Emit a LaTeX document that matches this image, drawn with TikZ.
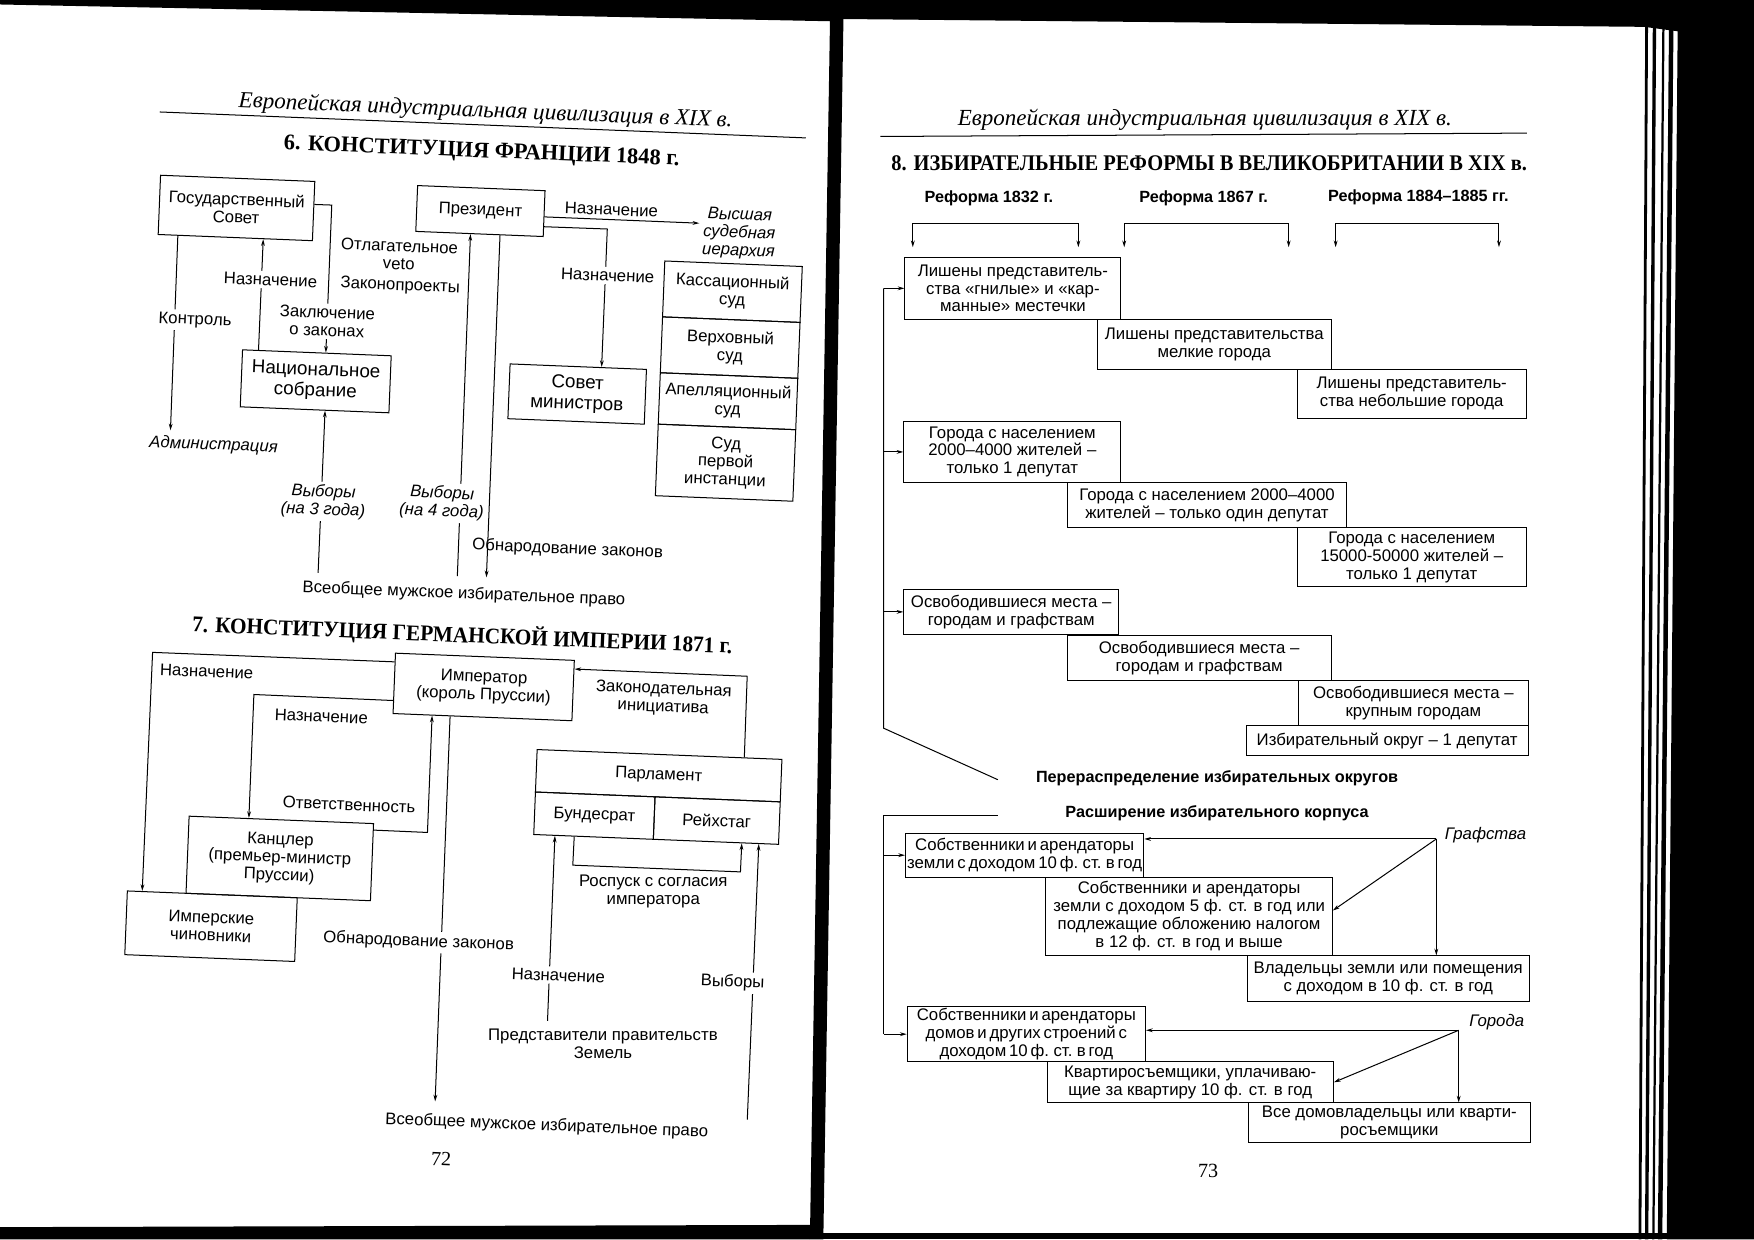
\documentclass[tikz,border=0pt]{standalone}
\usepackage{fontspec}
\setmainfont{Liberation Sans}
\newfontfamily\serifrm{Liberation Serif}
\newfontfamily\serifmid[FakeStretch=0.95]{Liberation Serif}
\newfontfamily\serifnarrow[FakeStretch=0.915]{Liberation Serif}
\usetikzlibrary{arrows.meta,calc}
\newcommand{\bodytxt}{\fontsize{15}{16}\selectfont}
\newcommand{\tighttxt}{\fontsize{15}{16}\selectfont\spaceskip=0.17em plus 0.05em\relax}
\newcommand{\bigtxt}{\fontsize{16.8}{18.5}\selectfont}
\newcommand{\hdrtxt}{\fontsize{20.6}{22}\selectfont\serifrm\itshape}
\newcommand{\ttltxt}{\fontsize{20}{22}\selectfont\serifrm\bfseries}
\newcommand{\ttlmid}{\fontsize{20}{22}\selectfont\serifmid\bfseries}
\newcommand{\ttlnarrow}{\fontsize{20}{22}\selectfont\serifnarrow\bfseries}
\newcommand{\subtxt}{\fontsize{14.5}{16}\selectfont\bfseries}
\newcommand{\pgtxt}{\fontsize{18}{20}\selectfont\serifrm}
\tikzset{
  bx/.style={draw, align=center, inner sep=1pt, font=\bodytxt},
  bigbx/.style={bx, font=\bigtxt},
  tightbx/.style={bx, font=\tighttxt},
  lab/.style={align=center, inner sep=1pt, font=\bodytxt},
  flab/.style={lab, fill=white, inner sep=2.5pt},
  itlab/.style={lab, font=\bodytxt\itshape},
  fitlab/.style={itlab, fill=white, inner sep=2.5pt},
  hdr/.style={inner sep=0pt, font=\hdrtxt},
  ttl/.style={inner sep=0pt, font=\ttltxt},
  ttlm/.style={inner sep=0pt, font=\ttlmid},
  ttlb/.style={inner sep=0pt, font=\ttlnarrow},
  subh/.style={inner sep=1pt, font=\subtxt},
  pgno/.style={inner sep=0pt, font=\pgtxt},
  scan/.style={fill=black, draw=none}
}
\begin{document}
\begin{tikzpicture}[x=1pt, y=-1pt, line width=0.9pt, >={Stealth[length=6pt,width=3.4pt]}]
\useasboundingbox (0,0) rectangle (1568,1108);
\fill[white] (0,0) rectangle (1568,1108);
\fill[scan] (0,0) -- (1568,0) -- (1568,30) -- (1500,28) -- (1470,24) -- (754,17) -- (742,19) -- (0,4) -- cycle;
\fill[scan] (742,17) -- (754,17) -- (736,1108) -- (724,1108) -- cycle;
\fill[scan] (1500,0) -- (1568,0) -- (1568,1108) -- (1490,1108) -- cycle;
\foreach \a/\b/\w in {1472/1466/2.5pt, 1479/1472/3pt, 1487/1478/2pt, 1494/1484/4pt}
  \draw[line width=\w] (\a,24) -- (\b,1108);
\fill[scan] (0,1097) -- (724,1095) -- (724,1108) -- (0,1108) -- cycle;
\fill[scan] (736,1102) -- (1568,1102) -- (1568,1108) -- (736,1108) -- cycle;

\begin{scope}[rotate around={-2.3:(480,600)}, transform shape]
\node[hdr, anchor=base] (hd1) at (414,107) {Европейская индустриальная цивилизация в XIX в.};
\draw (123,114) -- (701,114);
\node[ttl, anchor=base] (t6) at (412,143) {6. КОНСТИТУЦИЯ ФРАНЦИИ 1848 г.};

\node[bx, minimum width=138pt, minimum height=53pt] (gs) at (195,197) {Государственный\\Совет};
\node[bx, minimum width=114pt, minimum height=41pt] (pr) at (413,191) {Президент};
\node[bigbx, minimum width=133pt, minimum height=51pt] (ns) at (272,349) {Национальное\\собрание};
\node[bigbx, minimum width=122pt, minimum height=49pt] (sm) at (506,351) {Совет\\министров};
\node[bx, minimum width=123pt, minimum height=50pt] (ks) at (641,254) {Кассационный\\суд};
\node[bx, minimum width=123pt, minimum height=50pt] (vs) at (641,304) {Верховный\\суд};
\node[bx, minimum width=123pt, minimum height=46pt] (as) at (641,352) {Апелляционный\\суд};
\node[bx, minimum width=123pt, minimum height=64pt] (sp) at (641,407) {Суд\\первой\\инстанции};
\node[itlab] (adm) at (183,410) {Администрация};
\node[itlab] (vsi) at (645,202) {Высшая\\судебная\\иерархия};

\coordinate (k1) at (280,191);
\draw[->] ($(gs.north east)!0.39!(gs.south east)$) -- (k1) -- ($(ns.north west)!0.56!(ns.north east)$);
\draw[->] ($(ns.north west)!0.11!(ns.north east)$) -- ($(gs.south west)!0.68!(gs.south east)$);
\coordinate (k2) at (144,398);
\draw[->] ($(gs.south west)!0.13!(gs.south east)$) -- (k2);
\coordinate (k3) at (281,520);
\draw[->] (k3) -- ($(ns.south west)!0.57!(ns.south east)$);
\coordinate (k4) at (609,194);
\draw[->] ($(pr.north east)!0.57!(pr.south east)$) -- (k4);
\coordinate (k5) at (527,202.5);
\draw[->] ($(pr.north east)!0.78!(pr.south east)$) -- (k5) -- ($(sm.north west)!0.67!(sm.north east)$);
\coordinate (k6) at (405.5,518);
\draw[->] (k6) -- ($(pr.south west)!0.43!(pr.south east)$);
\coordinate (k7) at (431.5,518);
\draw[->] ($(pr.south west)!0.66!(pr.south east)$) -- (k7);

\node[lab] (nz1) at (530,185) {Назначение};
\node[flab] (nz2) at (529,244) {Назначение};
\node[lab] (veto) at (342,233) {Отлагательное\\veto};
\node[lab] (zp) at (344,261) {Законопроекты};
\node[flab] (nz3) at (228,260) {Назначение};
\node[flab] (ktr) at (162,299) {Контроль};
\node[flab] (zz) at (280,295) {Заключение\\о законах};
\node[fitlab] (vb3) at (283,456) {Выборы\\(на 3 года)};
\node[fitlab] (vb4) at (389,453) {Выборы\\(на 4 года)};
\node[lab] (obn1) at (503,490) {Обнародование законов};
\node[lab] (vsp1) at (412,534) {Всеобщее мужское избирательное право};

\node[ttlm, anchor=base] (t7) at (412,577) {7. КОНСТИТУЦИЯ ГЕРМАНСКОЙ ИМПЕРИИ 1871 г.};
\node[bx, minimum width=160pt, minimum height=54pt] (imp) at (433,616) {Император\\(король Пруссии)};
\node[bx, minimum width=219pt, minimum height=38pt] (parl) at (592.5,689) {Парламент};
\node[bx, minimum width=107pt, minimum height=38pt] (bund) at (536.5,727) {Бундесрат};
\node[bx, minimum width=112pt, minimum height=38pt] (reich) at (646,727) {Рейхстаг};
\node[bx, minimum width=165pt, minimum height=69pt] (kanz) at (257,776.5) {Канцлер\\(премьер-министр\\Пруссии)};
\node[bx, minimum width=152pt, minimum height=57pt] (beamt) at (198,839.5) {Имперские\\чиновники};

\coordinate (g1) at (136,597);
\draw[->] ($(imp.north west)!0.15!(imp.south west)$) -- (g1) -- ($(beamt.north west)!0.09!(beamt.north east)$);
\coordinate (g2) at (228,631);
\draw[->] ($(imp.north west)!0.78!(imp.south west)$) -- (g2) -- ($(kanz.north west)!0.325!(kanz.north east)$);
\coordinate (g3) at (388,748);
\draw[->] ($(kanz.north east)!0.09!(kanz.south east)$) -- (g3) -- ($(imp.south west)!0.22!(imp.south east)$);
\coordinate (g4) at (404.5,988);
\draw[->] ($(imp.south west)!0.32!(imp.south east)$) -- (g4);
\coordinate (g5) at (668,597);
\draw[->] ($(parl.north west)!0.845!(parl.north east)$) -- (g5) -- ($(imp.north east)!0.15!(imp.south east)$);
\coordinate (g6) at (519,772);
\coordinate (g7) at (669,772);
\draw[->] ($(bund.south west)!0.34!(bund.south east)$) -- (g6) -- (g7) -- ($(reich.south west)!0.705!(reich.south east)$);
\coordinate (g8) at (502,912);
\draw[->] (g8) -- ($(bund.south west)!0.18!(bund.south east)$);
\coordinate (g9) at (684,993);
\draw[->] (g9) -- ($(reich.south west)!0.84!(reich.south east)$);

\node[lab] (nz4) at (185,612) {Назначение};
\node[lab] (nz5) at (289,648) {Назначение};
\node[lab] (otv) at (317,726) {Ответственность};
\node[flab] (obn2) at (384,846) {Обнародование законов};
\node[lab] (zi) at (594,620) {Законодательная\\инициатива};
\node[flab] (nz6) at (510,871) {Назначение};
\node[flab] (vyb) at (666,871) {Выборы};
\node[lab] (vsp2) at (505,1006) {Всеобщее мужское избирательное право};
\node[pgno] (p72) at (412,1039) {72};
\end{scope}
\node[lab] (rsp) at (584,797) {Роспуск с согласия\\императора};
\node[lab] (pz) at (539,933) {Представители правительств\\Земель};

\node[hdr, anchor=base] (hd2) at (1077,112) {Европейская индустриальная цивилизация в XIX в.};
\draw (787,122) -- (1365,119);
\node[ttlb, anchor=base] (t8) at (1081,152) {8. ИЗБИРАТЕЛЬНЫЕ РЕФОРМЫ В ВЕЛИКОБРИТАНИИ В XIX в.};
\node[subh] (r1) at (884,177) {Реформа 1832 г.};
\node[subh] (r2) at (1076,177) {Реформа 1867 г.};
\node[subh] (r3) at (1268,176) {Реформа 1884–1885 гг.};
\foreach \n/\a/\b in {1/816/964, 2/1005/1152, 3/1194/1340}{
  \coordinate (ba\n) at (\a,221);
  \coordinate (bb\n) at (\b,221);
  \draw[<->] (ba\n) -- ++(0,-21) -| (bb\n);
}

\node[bx, minimum width=193pt, minimum height=55.5pt] (b1) at (905.5,257.75) {Лишены представитель-\\ства «гнилые» и «кар-\\манные» местечки};
\node[bx, minimum width=209pt, minimum height=44.5pt] (b2) at (1085.5,307.75) {Лишены представительства\\мелкие города};
\node[bx, minimum width=205pt, minimum height=44pt] (b3) at (1262,352) {Лишены представитель-\\ства небольшие города};
\node[bx, minimum width=194pt, minimum height=54pt] (c1) at (905,404) {Города с населением\\2000–4000 жителей –\\только 1 депутат};
\node[bx, minimum width=250pt, minimum height=41pt] (c2) at (1079,451.5) {Города с населением 2000–4000\\жителей – только один депутат};
\node[bx, minimum width=205pt, minimum height=52.5pt] (c3) at (1262,498) {Города с населением\\15000-50000 жителей –\\только 1 депутат};
\node[bx, minimum width=192pt, minimum height=40.5pt] (d1) at (904,547) {Освободившиеся места –\\городам и графствам};
\node[bx, minimum width=236pt, minimum height=40.5pt] (d2) at (1072,588) {Освободившиеся места –\\городам и графствам};
\node[bx, minimum width=205pt, minimum height=41pt] (d3) at (1263.5,628.5) {Освободившиеся места –\\крупным городам};
\node[bx, minimum width=252pt, minimum height=26pt] (d4) at (1240,662) {Избирательный округ – 1 депутат};

\coordinate (ra) at (790,651);
\coordinate (rb) at (892,697);
\draw (rb) -- (ra) -- (ra |- b1.west);
\foreach \b in {b1,c1,d1}
  \draw[->] (ra |- \b.west) -- (\b.west);
\node[subh] (pre) at (1088,696) {Перераспределение избирательных округов};
\node[subh] (ras) at (1088,727) {Расширение избирательного корпуса};

\node[tightbx, minimum width=213pt, minimum height=39pt] (e1) at (916,764.5) {Собственники и арендаторы\\земли с доходом 10 ф. ст. в год};
\node[bx, minimum width=256pt, minimum height=70pt] (e2) at (1063,819) {Собственники и арендаторы\\земли с доходом 5 ф. ст. в год или\\подлежащие обложению налогом\\в 12 ф. ст. в год и выше};
\node[bx, minimum width=252pt, minimum height=41pt] (e3) at (1241,875) {Владельцы земли или помещения\\с доходом в 10 ф. ст. в год};
\node[tightbx, minimum width=213pt, minimum height=49pt] (f1) at (917.5,924.5) {Собственники и арендаторы\\домов и других строений с\\доходом 10 ф. ст. в год};
\node[bx, minimum width=256pt, minimum height=37pt] (f2) at (1064,967.5) {Квартиросъемщики, уплачиваю-\\щие за квартиру 10 ф. ст. в год};
\node[bx, minimum width=252pt, minimum height=35pt] (f3) at (1242,1003.5) {Все домовладельцы или кварти-\\росъемщики};

\coordinate (rc) at (892,729);
\coordinate (rd) at (790,729);
\draw (rc) -- (rd) -- (rd |- f1.west);
\foreach \b in {e1,f1}
  \draw[->] (rd |- \b.west) -- (\b.west);

\node[itlab] (gr) at (1328,747) {Графства};
\coordinate (gj) at (1284,750);
\draw[->] (gj) -- (e1.east |- gj);
\draw[->] (gj) -- ([yshift=5pt]e2.east);
\draw[->] (gj) -- (gj |- e3.north);
\node[itlab] (gd) at (1338,914) {Города};
\coordinate (dj) at (1304,921);
\draw[->] (dj) -- (f1.east |- dj);
\draw[->] (dj) -- (f2.east);
\draw[->] (dj) -- (dj |- f3.north);

\node[pgno] (p73) at (1080,1047) {73};
\end{tikzpicture}
\end{document}
